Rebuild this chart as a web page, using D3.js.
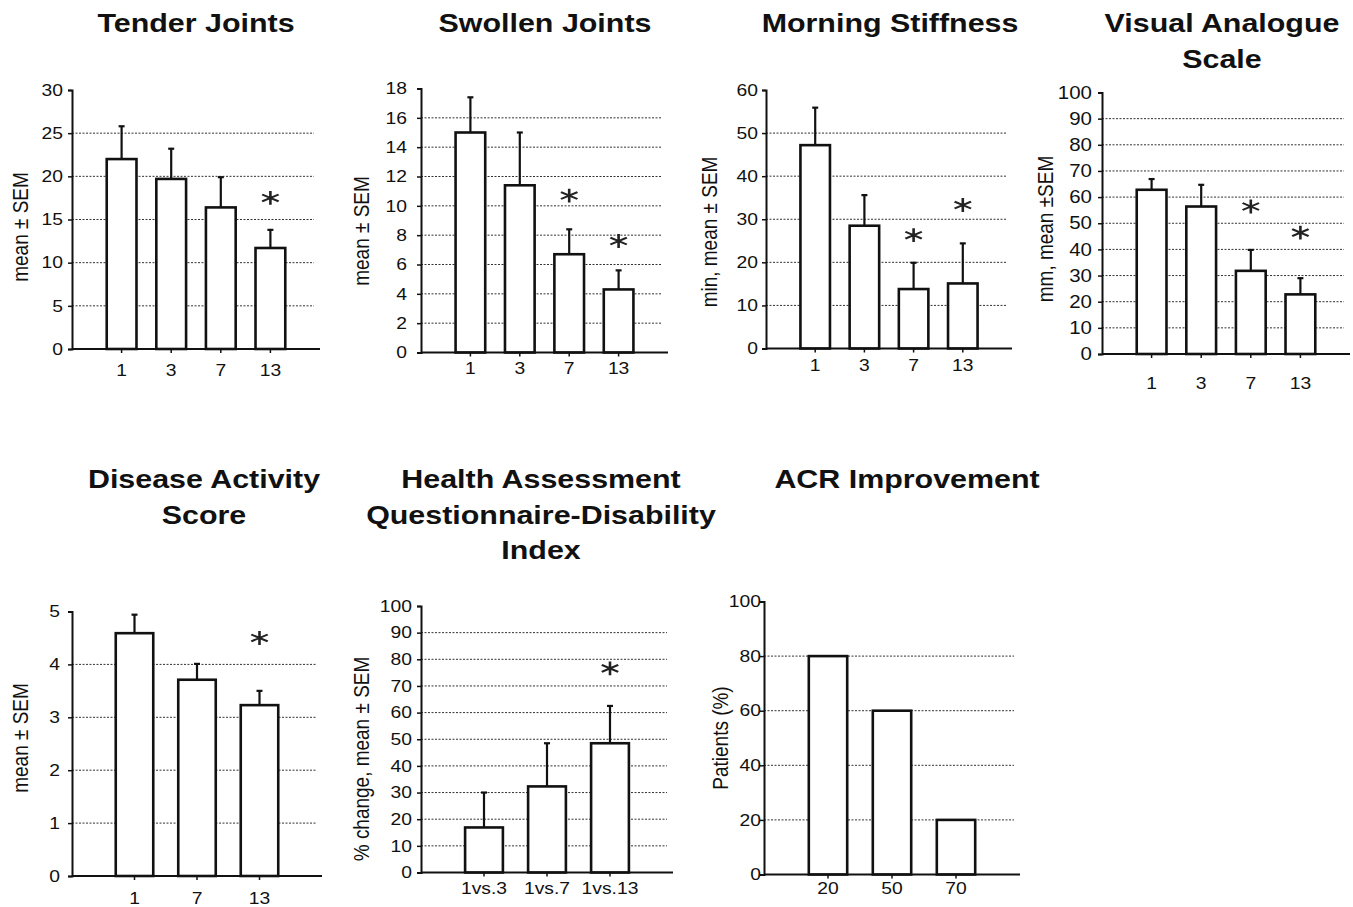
<!DOCTYPE html>
<html>
<head>
<meta charset="utf-8">
<script src="https://cdn.jsdelivr.net/npm/d3@7"></script>
<style>
  body { margin: 0; background: #fff; }
  text { font-family: "Liberation Sans", Arial, sans-serif; fill: #111; }
</style>
</head>
<body>
<svg id="chart" width="1353" height="907"></svg>
<script>
// ---- data ----
const weekCats = ["1", "3", "7", "13"];
const dasCats = ["1", "7", "13"];
const haqCats = ["1vs.3", "1vs.7", "1vs.13"];
const acrCats = ["20", "50", "70"];

const tenderMean = [22.0, 19.7, 16.4, 11.7];
const tenderSem = [3.8, 3.5, 3.5, 2.1];
const tenderStars = [{ cat: "13", y: 17.5 }];
const tenderTicks = [0, 5, 10, 15, 20, 25, 30];

const swollenMean = [15.0, 11.4, 6.7, 4.3];
const swollenSem = [2.4, 3.6, 1.7, 1.3];
const swollenStars = [{ cat: "7", y: 10.7 }, { cat: "13", y: 7.6 }];
const swollenTicks = [0, 2, 4, 6, 8, 10, 12, 14, 16, 18];

const morningMean = [47.2, 28.5, 13.8, 15.1];
const morningSem = [8.7, 7.1, 6.1, 9.3];
const morningStars = [{ cat: "7", y: 26.3 }, { cat: "13", y: 33.3 }];
const morningTicks = [0, 10, 20, 30, 40, 50, 60];

const vasMean = [62.8, 56.4, 31.8, 22.8];
const vasSem = [4.1, 8.3, 8.0, 6.2];
const vasStars = [{ cat: "7", y: 56.4 }, { cat: "13", y: 46.4 }];
const vasTicks = [0, 10, 20, 30, 40, 50, 60, 70, 80, 90, 100];

const dasMean = [4.59, 3.71, 3.23];
const dasSem = [0.35, 0.30, 0.27];
const dasStars = [{ cat: "13", y: 4.5 }];
const dasTicks = [0, 1, 2, 3, 4, 5];

const haqMean = [16.9, 32.3, 48.5];
const haqSem = [13.1, 16.2, 14.0];
const haqStars = [{ cat: "1vs.13", y: 76.6 }];
const haqTicks = [0, 10, 20, 30, 40, 50, 60, 70, 80, 90, 100];

const acrPct = [80, 60, 20];
const acrTicks = [0, 20, 40, 60, 80, 100];

// ---- panel layout ----
const panels = [
  { title: ["Tender Joints"], yLabel: "mean ± SEM", cats: weekCats, mean: tenderMean, sem: tenderSem,
    stars: tenderStars, ticks: tenderTicks,
    x0: 72, x1: 320, yTop: 90, yBot: 349, titleX: 196, titleY: 32, tickGap: 9, xLabDy: 21, yLabDx: 52, yLabY: 227 },
  { title: ["Swollen Joints"], yLabel: "mean ± SEM", cats: weekCats, mean: swollenMean, sem: swollenSem,
    stars: swollenStars, ticks: swollenTicks,
    x0: 421, x1: 668, yTop: 88.5, yBot: 352.5, titleX: 545, titleY: 32, tickGap: 14, xLabDy: 16, yLabDx: 60, yLabY: 231 },
  { title: ["Morning Stiffness"], yLabel: "min, mean  ± SEM", cats: weekCats, mean: morningMean, sem: morningSem,
    stars: morningStars, ticks: morningTicks,
    x0: 766, x1: 1012, yTop: 90, yBot: 348.5, titleX: 890, titleY: 32, tickGap: 8, xLabDy: 17, yLabDx: 57, yLabY: 232 },
  { title: ["Visual Analogue", "Scale"], yLabel: "mm, mean ±SEM", cats: weekCats, mean: vasMean, sem: vasSem,
    stars: vasStars, ticks: vasTicks, tickSize: 17.5,
    x0: 1102, x1: 1350, yTop: 92.5, yBot: 354, titleX: 1222, titleY: 32, tickGap: 10, xLabDy: 29, yLabDx: 57, yLabY: 229 },
  { title: ["Disease Activity", "Score"], yLabel: "mean  ± SEM", cats: dasCats, mean: dasMean, sem: dasSem,
    stars: dasStars, ticks: dasTicks,
    x0: 72, x1: 322, yTop: 611.5, yBot: 876, titleX: 204, titleY: 488, tickGap: 12, xLabDy: 22, yLabDx: 52, yLabY: 738 },
  { title: ["Health Assessment", "Questionnaire-Disability", "Index"], yLabel: "% change, mean ± SEM", cats: haqCats,
    mean: haqMean, sem: haqSem, stars: haqStars, ticks: haqTicks,
    x0: 421, x1: 673, yTop: 606, yBot: 872.5, titleX: 541, titleY: 488, tickGap: 9, xLabDy: 16, yLabDx: 60, yLabY: 759 },
  { title: ["ACR Improvement"], yLabel: "Patients (%)", cats: acrCats, mean: acrPct, sem: null,
    stars: [], ticks: acrTicks,
    x0: 764, x1: 1020, yTop: 601.5, yBot: 874.5, titleX: 907, titleY: 488, tickGap: 3, xLabDy: 14, yLabDx: 44, yLabY: 738 }
];

const svg = d3.select("#chart");
const stretch = 1.17; // scanned figure text is wider than normal

panels.forEach(drawPanel);

function drawPanel(p) {
  const g = svg.append("g");
  const yMax = p.ticks[p.ticks.length - 1];

  const x = d3.scaleBand().domain(p.cats).range([p.x0, p.x1]).paddingInner(0.4).paddingOuter(0.7);
  const y = d3.scaleLinear().domain([0, yMax]).range([p.yBot, p.yTop]);
  const cx = d => x(d) + x.bandwidth() / 2;

  // title
  p.title.forEach((line, i) => {
    g.append("text")
      .attr("transform", `translate(${p.titleX},${p.titleY + i * 35.5}) scale(${stretch},1)`)
      .attr("text-anchor", "middle")
      .attr("font-size", 26)
      .attr("font-weight", "bold")
      .text(line);
  });

  // dotted gridlines (not at 0 or top)
  g.selectAll(".grid")
    .data(p.ticks.filter(t => t > 0 && t < yMax))
    .enter().append("line")
    .attr("x1", p.x0).attr("x2", p.x1 - 6)
    .attr("y1", d => y(d)).attr("y2", d => y(d))
    .attr("stroke", "#333")
    .attr("stroke-width", 1)
    .attr("stroke-dasharray", "2,1.5");

  // y axis
  const yAxis = g.append("g").attr("transform", `translate(${p.x0},0)`)
    .call(d3.axisLeft(y).tickValues(p.ticks).tickSize(4).tickPadding(p.tickGap - 4).tickFormat(d3.format("d")));
  yAxis.select(".domain").attr("stroke", "#111").attr("stroke-width", 2);
  yAxis.selectAll(".tick line").attr("stroke", "#111").attr("stroke-width", 1.5);
  yAxis.selectAll(".tick text")
    .attr("font-size", p.tickSize || 16.5)
    .attr("font-family", "Liberation Sans, Arial, sans-serif")
    .attr("fill", "#111")
    .each(function () {
      const t = d3.select(this);
      t.attr("x", +t.attr("x") / stretch).attr("transform", `scale(${stretch},1)`);
    });

  const rows = p.cats.map((c, i) => ({ cat: c, v: p.mean[i], e: p.sem ? p.sem[i] : 0 }));

  // error bars (stem from bar top up to mean + SEM)
  if (p.sem) {
    g.selectAll(".err")
      .data(rows).enter().append("line")
      .attr("x1", d => cx(d.cat)).attr("x2", d => cx(d.cat))
      .attr("y1", d => y(d.v)).attr("y2", d => y(d.v + d.e))
      .attr("stroke", "#111").attr("stroke-width", 2.2);
    g.selectAll(".cap")
      .data(rows).enter().append("line")
      .attr("x1", d => cx(d.cat) - 3).attr("x2", d => cx(d.cat) + 3)
      .attr("y1", d => y(d.v + d.e)).attr("y2", d => y(d.v + d.e))
      .attr("stroke", "#111").attr("stroke-width", 2.2);
  }

  // bars
  g.selectAll(".bar")
    .data(rows).enter().append("rect")
    .attr("x", d => x(d.cat))
    .attr("y", d => y(d.v))
    .attr("width", x.bandwidth())
    .attr("height", d => y(0) - y(d.v))
    .attr("fill", "#fff")
    .attr("stroke", "#111")
    .attr("stroke-width", 2.6);

  // x axis
  g.append("line")
    .attr("x1", p.x0).attr("x2", p.x1)
    .attr("y1", p.yBot).attr("y2", p.yBot)
    .attr("stroke", "#111").attr("stroke-width", 2);
  g.selectAll(".xtick")
    .data(p.cats).enter().append("line")
    .attr("x1", cx).attr("x2", cx)
    .attr("y1", p.yBot).attr("y2", p.yBot + 4)
    .attr("stroke", "#111").attr("stroke-width", 1.5);
  g.selectAll(".xlab")
    .data(p.cats).enter().append("text")
    .attr("transform", d => `translate(${cx(d)},${p.yBot + p.xLabDy}) scale(${stretch},1)`)
    .attr("text-anchor", "middle")
    .attr("dy", "0.35em")
    .attr("font-size", 16.5)
    .text(d => d);

  // y axis label
  g.append("text")
    .attr("transform", `translate(${p.x0 - p.yLabDx},${p.yLabY}) rotate(-90) scale(1,${stretch})`)
    .attr("text-anchor", "middle")
    .attr("dy", "0.35em")
    .attr("font-size", 19)
    .text(p.yLabel);

  // significance asterisks
  const star = d3.symbol().type(d3.symbolAsterisk).size(150);
  g.selectAll(".star")
    .data(p.stars).enter().append("path")
    .attr("d", star)
    .attr("transform", d => `translate(${cx(d.cat)},${y(d.y)}) scale(1.3,0.95)`)
    .attr("fill", "none")
    .attr("stroke", "#222")
    .attr("stroke-width", 2);
}
</script>
</body>
</html>
